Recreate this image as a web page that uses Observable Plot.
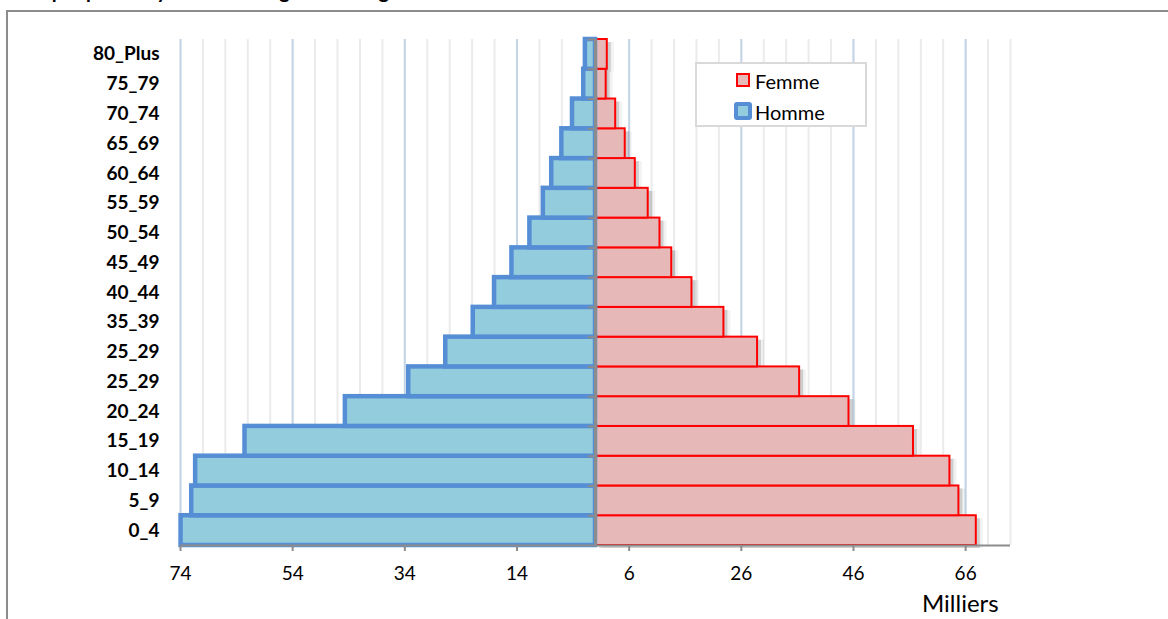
<!DOCTYPE html>
<html>
<head>
<meta charset="utf-8">
<script src="https://cdn.jsdelivr.net/npm/d3@7"></script>
<script src="https://cdn.jsdelivr.net/npm/@observablehq/plot@0.6"></script>
<style>
  html, body { margin: 0; padding: 0; background: #fff; overflow: hidden; }
  #wrap { position: relative; width: 1168px; height: 619px; overflow: hidden; font-family: Lato, "Open Sans", sans-serif; }
  #frame { position: absolute; left: 6px; top: 10px; width: 1300px; height: 800px; border: 2px solid #8c8c8c; box-sizing: border-box; }
  #title { position: absolute; left: 20px; top: -20px; font-size: 20px; line-height: 1; font-weight: bold; white-space: nowrap; color: #000; }
  #chart { position: absolute; left: 0; top: 0; }
  #legend { position: absolute; left: 695px; top: 62px; width: 172px; height: 65px; border: 2px solid #d9d9d9; box-sizing: border-box; background: #fff; }
  .item { position: absolute; left: 38px; font-size: 20px; line-height: 1; color: #000; }
  .sw { position: absolute; box-sizing: border-box; }
  #milliers { position: absolute; left: 922px; top: 591px; font-size: 24px; line-height: 1; color: #000; }
</style>
</head>
<body>
<div id="wrap">
  <div id="title">Graphique 3 : Pyramide des âges de la région de Fatick en 2013</div>
  <div id="frame"></div>
  <div id="chart"></div>
  <div id="legend"></div>
  <div id="milliers">Milliers</div>
</div>
<script>
// Age groups, bottom to top (the source repeats "25_29")
const ages = ["0_4","5_9","10_14","15_19","20_24","25_29","25_29","35_39","40_44","45_49","50_54","55_59","60_64","65_69","70_74","75_79","80_Plus"];
// Values in thousands
const homme = [73.9, 72.0, 71.3, 62.5, 44.6, 33.3, 26.7, 21.8, 18.0, 14.9, 11.7, 9.3, 7.8, 6.0, 4.1, 2.1, 1.8];
const femme = [67.9, 64.8, 63.2, 56.7, 45.2, 36.4, 28.9, 22.9, 17.2, 13.6, 11.5, 9.4, 7.1, 5.3, 3.6, 1.9, 2.1];
const tickValues = [-74, -54, -34, -14, 6, 26, 46, 66];
const tickLabels = ["74", "54", "34", "14", "6", "26", "46", "66"];
const seriesNames = ["Femme", "Homme"];

const rows = ages.map((age, i) => ({i, age, homme: homme[i], femme: femme[i]}));
const minorGrid = d3.range(-74, 75, 4);
const boundaries = d3.range(0, ages.length + 1);

const chart = Plot.plot({
  width: 1168,
  height: 619,
  marginLeft: 180,
  marginRight: 158,
  marginTop: 39,
  marginBottom: 74,
  style: {fontFamily: "Lato, 'Open Sans', sans-serif", background: "transparent", color: "#000"},
  x: {domain: [-74, 74], label: null},
  y: {domain: [0, ages.length], label: null},
  marks: [
    Plot.ruleX(minorGrid, {stroke: "#ebebeb", strokeWidth: 2}),
    Plot.ruleX(tickValues, {stroke: "#c5d5e8", strokeWidth: 2}),
    // soft shadow of Femme bars
    Plot.rect(rows, {x1: 0, x2: "femme", y1: "i", y2: d => d.i + 1, dx: 7, dy: 3, fill: "#000", fillOpacity: 0.05}),
    Plot.rect(rows, {x1: 0, x2: "femme", y1: "i", y2: d => d.i + 1, dx: 4, dy: 3, fill: "#000", fillOpacity: 0.15}),
    Plot.rect(rows, {x1: 0, x2: "femme", y1: "i", y2: d => d.i + 1, fill: "#E6B9B8", stroke: "#ff0000", strokeWidth: 2}),
    Plot.rect(rows, {x1: d => -d.homme, x2: 0, y1: "i", y2: d => d.i + 1, fill: "#93CDDD", stroke: "#558ED5", strokeWidth: 4.5}),
    Plot.ruleX([0], {stroke: "#8c8c8c", strokeWidth: 3}),
    Plot.ruleY(boundaries.slice(1), {x1: -1.3, x2: 0, stroke: "#8c8c8c", strokeWidth: 2}),
    Plot.ruleY([0], {x1: -74, x2: 74, stroke: "#8c8c8c", strokeWidth: 2}),
    Plot.axisX({ticks: tickValues, tickFormat: d => tickLabels[tickValues.indexOf(d)], tickSize: 6, tickPadding: 15, stroke: "#8c8c8c", strokeWidth: 2, fontSize: 19, label: null}),
    Plot.axisY({ticks: rows.map(d => d.i + 0.5), tickFormat: v => ages[Math.floor(v)], tickSize: 0, tickPadding: 21, fontSize: 19, fontWeight: "bold", label: null})
  ]
});
document.getElementById("chart").appendChild(chart);

// Legend
const legend = document.getElementById("legend");
legend.innerHTML = `
  <div class="sw" style="left:39px;top:9px;width:14px;height:14px;background:#E6B9B8;border:2px solid #ff0000;"></div>
  <div class="item" style="left:58px;top:7px;">${seriesNames[0]}</div>
  <div class="sw" style="left:37px;top:38px;width:18px;height:18px;background:#93CDDD;border:4px solid #558ED5;border-radius:3px;"></div>
  <div class="item" style="left:58px;top:38px;">${seriesNames[1]}</div>
`;
</script>
</body>
</html>
